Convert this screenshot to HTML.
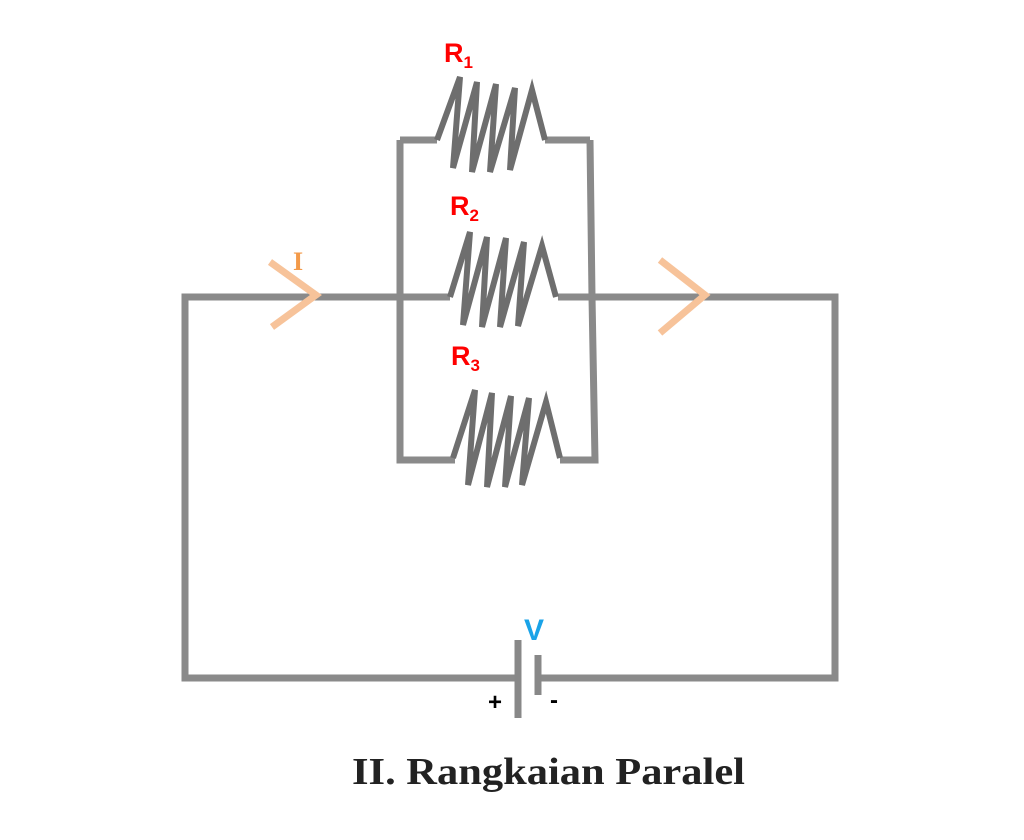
<!DOCTYPE html>
<html><head><style>
body{margin:0;background:#fff;width:1024px;height:835px;overflow:hidden}
</style></head><body>
<svg width="1024" height="835" viewBox="0 0 1024 835" xmlns="http://www.w3.org/2000/svg" font-family="Liberation Sans, sans-serif">
<g fill="none" stroke="#8a8a8a" stroke-width="7" stroke-linejoin="miter">
<polyline points="400,297 185,297 185,678 518,678"/>
<polyline points="538,678 835,678 835,297 590,297"/>
<polyline points="400,297 450,297"/>
<polyline points="558,297 590,297"/>
<polyline points="400,140 400,460 455,460"/>
<polyline points="590,140 592,297 595,460 560,460"/>
<polyline points="400,140 437,140"/>
<polyline points="545,140 590,140"/>
</g>
<g fill="none" stroke="#6e6e6e" stroke-width="6" stroke-linejoin="miter">
<polyline points="437,140 460,77 453,168 477,82 472,172 496,84 490,172 515,88 510,170 532,90 545,140"/>
<polyline points="450,297 470,232 463,325 487,237 482,327 506,238 500,327 524,242 518,326 542,246 556,297"/>
<polyline points="453,458 475,390 468,485 492,393 487,487 511,396 505,487 529,398 522,485 546,402 560,458"/>
</g>
<g stroke="#888" stroke-width="7">
<line x1="518" y1="640" x2="518" y2="718"/>
<line x1="538" y1="655" x2="538" y2="695"/>
</g>
<g fill="none" stroke="#f7c39a" stroke-width="7">
<polyline points="270,262 316,295 272,327"/>
<polyline points="660,260 705,295 660,333"/>
</g>
<g font-weight="bold" fill="#f00" font-size="27">
<text x="444" y="62">R<tspan font-size="17" dy="6">1</tspan></text>
<text x="450" y="215">R<tspan font-size="17" dy="6">2</tspan></text>
<text x="451" y="365">R<tspan font-size="17" dy="6">3</tspan></text>
</g>
<text x="293" y="270" fill="#f39a4a" font-weight="bold" font-size="26" font-family="Liberation Serif, serif">I</text>
<text x="524" y="640" fill="#1aa3e8" font-weight="bold" font-size="30">V</text>
<text x="488" y="710" font-weight="bold" font-size="24">+</text>
<text x="550" y="708" font-weight="bold" font-size="24">-</text>
<text x="352" y="784" textLength="393" lengthAdjust="spacingAndGlyphs" font-family="Liberation Serif, serif" font-weight="bold" font-size="38" fill="#222">II. Rangkaian Paralel</text>
</svg>
</body></html>
